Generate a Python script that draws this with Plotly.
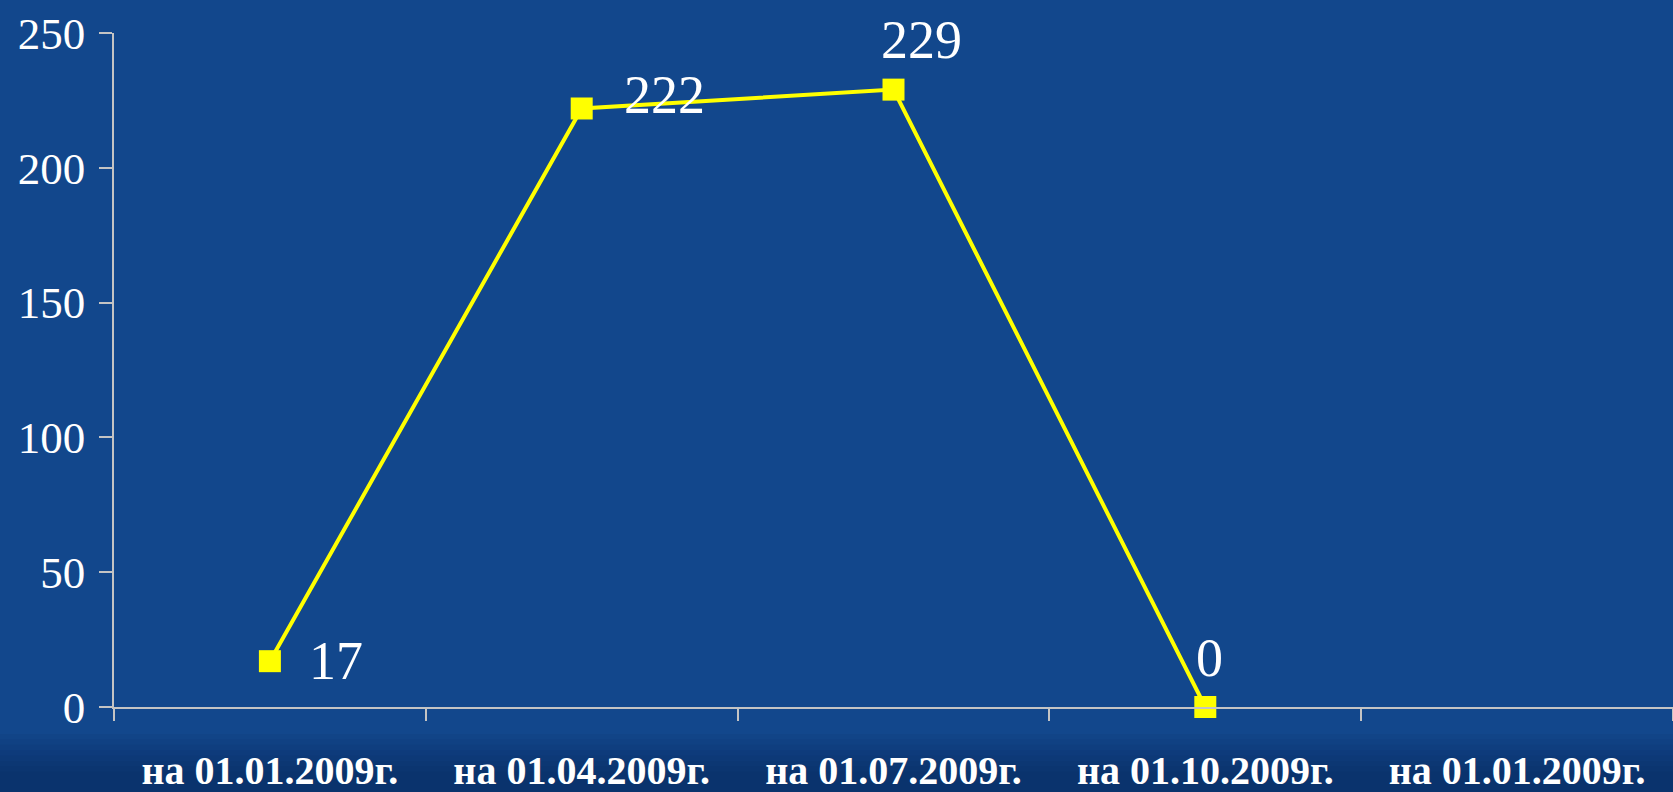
import plotly.graph_objects as go

# data
periods = ["на 01.01.2009г.", "на 01.04.2009г.", "на 01.07.2009г.",
           "на 01.10.2009г.", "на 01.01.2009г."]
values = [17, 222, 229, 0, None]
y_ticks = [0, 50, 100, 150, 200, 250]

# where each value label sits relative to its marker (px)
label_offsets = [(37, 0, "left"), (40, 13, "left"), (28, 50, "center"), (4, 49, "center")]

BG = "#12478c"
AXIS = "#c4c4c4"
YELLOW = "#ffff00"
SERIF = "Liberation Serif, Times New Roman, serif"

x_idx = list(range(len(periods)))

fig = go.Figure()
fig.add_trace(go.Scatter(
    x=x_idx, y=values,
    mode="lines+markers",
    line=dict(color=YELLOW, width=4),
    marker=dict(symbol="square", size=22, color=YELLOW),
    cliponaxis=False,
    hoverinfo="skip",
))

for x, v, (dx, dy, anchor) in zip(x_idx, values, label_offsets):
    fig.add_annotation(x=x, y=v, text=str(v), showarrow=False,
                       xshift=dx, yshift=dy, xanchor=anchor, yanchor="middle",
                       font=dict(family=SERIF, size=54, color="white"))

# darker band along the bottom, like the slide background
for i in range(8):
    fig.add_shape(type="rect", xref="paper", yref="paper",
                  x0=-0.1, x1=1.1, y0=-0.2, y1=-0.04 - i * 0.008,
                  fillcolor="#021a40", opacity=0.05, line_width=0, layer="below")

fig.update_layout(
    width=1673, height=792,
    margin=dict(l=114, r=0, t=33, b=85),
    paper_bgcolor=BG, plot_bgcolor="rgba(0,0,0,0)",
    showlegend=False,
    font=dict(family=SERIF, color="white"),
)
fig.update_xaxes(
    range=[-0.5, len(periods) - 0.5],
    tickmode="array", tickvals=x_idx, ticktext=periods,
    ticks="", showgrid=False, zeroline=False, automargin=False,
    showline=True, linecolor=AXIS, linewidth=1.5,
    tickfont=dict(family=SERIF, size=40, color="white", weight="bold"),
    ticklabelstandoff=27,
    minor=dict(tick0=-0.5, dtick=1, ticks="outside", ticklen=12,
               tickcolor=AXIS, tickwidth=2, showgrid=False),
)
fig.update_yaxes(
    range=[0, 250],
    tickmode="array", tickvals=y_ticks,
    ticks="outside", ticklen=13, tickcolor=AXIS, tickwidth=1.5,
    showgrid=False, zeroline=False, automargin=False,
    showline=True, linecolor=AXIS, linewidth=1.5,
    tickfont=dict(family=SERIF, size=45, color="white"),
    ticklabelstandoff=5,
)

fig.write_html("out.html", config={"displayModeBar": False},
               post_script="document.body.style.margin='0';")
